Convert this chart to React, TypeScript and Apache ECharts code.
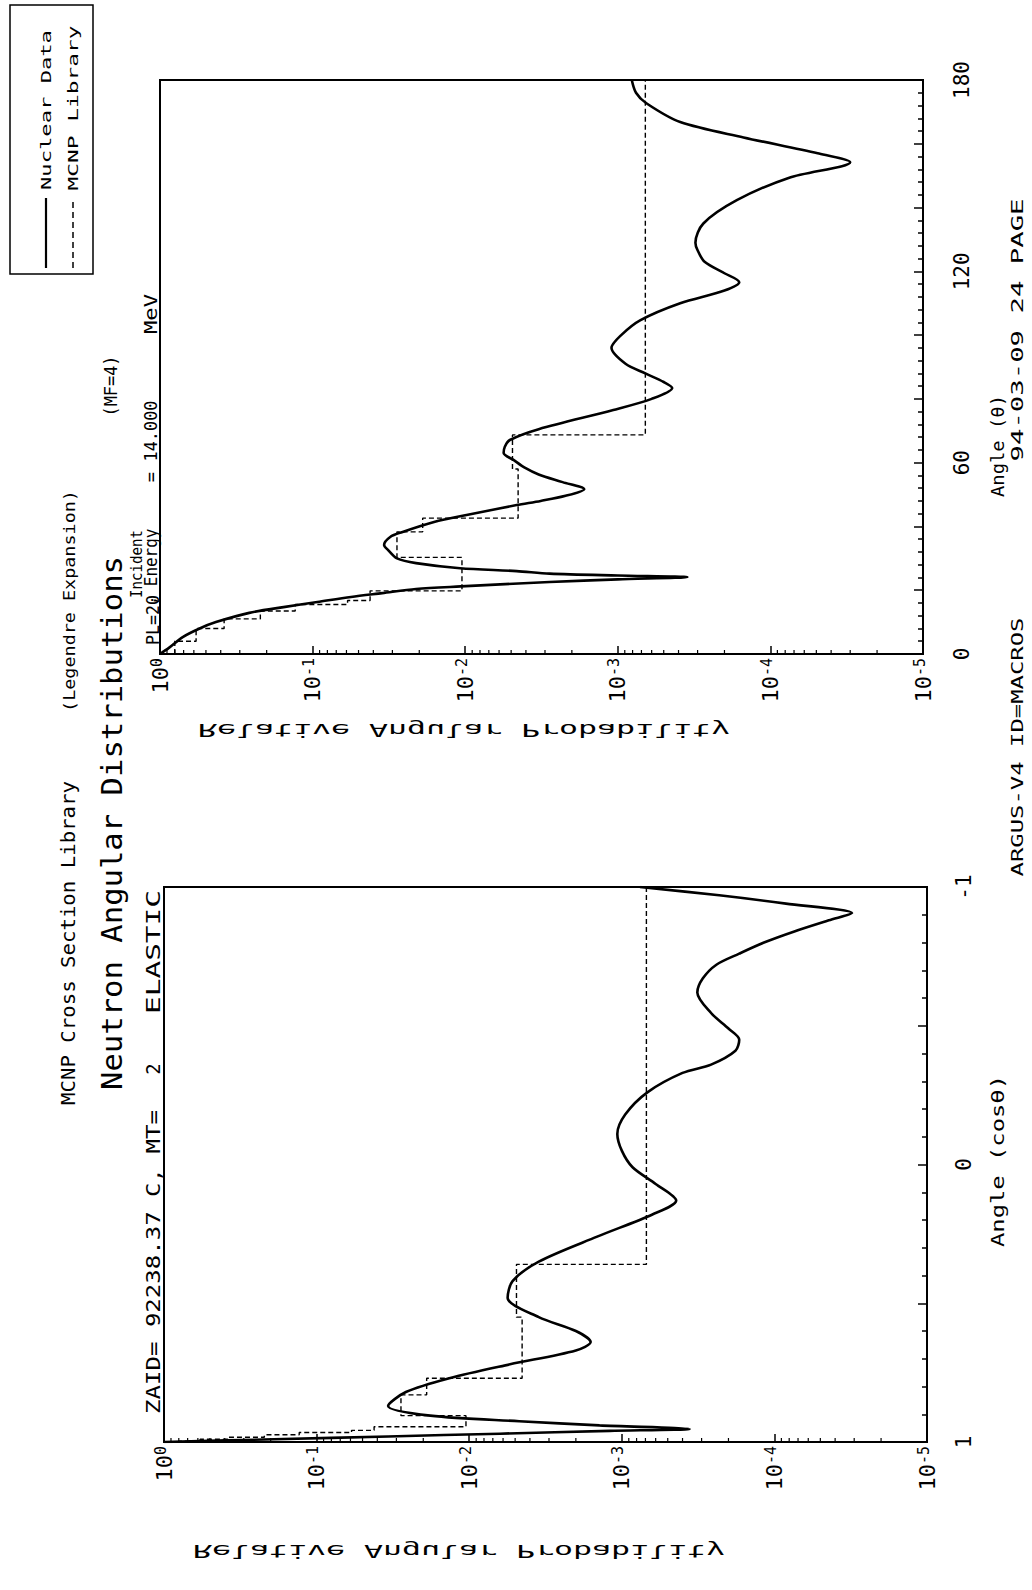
import React, { useEffect, useRef } from 'react';
import * as echarts from 'echarts';

const FONT = 'DejaVu Sans Mono';

// ---- Top panel: probability vs angle (degrees) ----
const topAngles = [0, 2, 5.3, 8, 10, 12.9, 14.7, 16.3, 17.9, 19.1, 20.4, 21.2, 22.6, 23.4, 24.1, 24.6, 25.2, 26.0, 26.9, 28.5, 30, 32.6, 34.2, 36.7, 38.2, 41.4, 43.6, 46.7, 48, 49.6, 51.7, 53.9, 56.3, 58.5, 60.8, 63, 65, 67.1, 70.5, 76.5, 80, 83.4, 85.3, 88, 91, 96, 100, 104.7, 110, 114, 116.6, 119.4, 123, 126.6, 129, 135, 142.3, 149.3, 154.2, 157, 162, 166.8, 172.7, 176, 180];
const topValues = [1.0, 0.87, 0.71, 0.55, 0.43, 0.26, 0.155, 0.093, 0.056, 0.035, 0.021, 0.0107, 0.0028, 0.001, 0.00035, 0.001, 0.0028, 0.0046, 0.0108, 0.021, 0.028, 0.032, 0.034, 0.031, 0.026, 0.016, 0.0098, 0.0046, 0.0032, 0.0022, 0.00166, 0.0023, 0.0033, 0.0041, 0.0048, 0.0056, 0.0055, 0.0051, 0.0033, 0.00107, 0.0006, 0.00044, 0.0005, 0.00066, 0.00089, 0.0011, 0.00095, 0.00071, 0.00039, 0.0002, 0.00016, 0.0002, 0.00027, 0.0003, 0.00031, 0.000275, 0.000166, 0.000076, 0.00003, 0.000049, 0.00015, 0.00039, 0.00065, 0.00076, 0.00081];
const topBinEdges = [0, 4, 8, 11, 13.5, 15.5, 16.8, 19.8, 30.3, 38.3, 42.6, 58, 68.7, 180];
const topBinValues = [0.8, 0.58, 0.38, 0.22, 0.13, 0.059, 0.042, 0.0105, 0.028, 0.019, 0.0045, 0.0049, 0.00066];

// ---- Bottom panel: probability vs cos(theta) ----
const botCos = [-1, -0.97, -0.94, -0.906, -0.88, -0.84, -0.8, -0.76, -0.72, -0.67, -0.62, -0.546, -0.49, -0.45, -0.41, -0.36, -0.33, -0.26, -0.18, -0.11, -0.05, 0.01, 0.07, 0.13, 0.18, 0.26, 0.35, 0.42, 0.48, 0.55, 0.6, 0.64, 0.67, 0.72, 0.77, 0.82, 0.87, 0.905, 0.925, 0.94, 0.953, 0.96, 0.97, 0.98, 0.99, 1];
const botValues = [7.6e-4, 2.3e-4, 8.4e-5, 3.1e-5, 4.4e-5, 7.4e-5, 1.17e-4, 1.7e-4, 2.4e-4, 2.95e-4, 3.2e-4, 2.6e-4, 2.0e-4, 1.7e-4, 1.8e-4, 2.6e-4, 4.0e-4, 6.8e-4, 9.5e-4, 1.07e-3, 1.0e-3, 8.5e-4, 6.0e-4, 4.4e-4, 6.3e-4, 1.45e-3, 3.5e-3, 5.2e-3, 5.6e-3, 3.5e-3, 2.0e-3, 1.6e-3, 2.0e-3, 5.4e-3, 0.0135, 0.026, 0.034, 0.018, 4.7e-3, 1.4e-3, 3.6e-4, 1.2e-3, 6.3e-3, 0.034, 0.19, 1.0];
const botBinEdges = [-1, 0.36, 0.55, 0.77, 0.83, 0.905, 0.945, 0.958, 0.966, 0.974, 0.983, 0.99, 0.997, 1];
const botBinValues = [0.00069, 0.0049, 0.0045, 0.019, 0.028, 0.0105, 0.042, 0.059, 0.13, 0.22, 0.38, 0.58, 0.8];

// axis tick labels
const angleTickLabels = ['0', '60', '120', '180'];
const cosTickLabels = ['-1', '0', '1'];
const decadeExponents = [0, -1, -2, -3, -4, -5];

// minor log ticks (2..9 in each decade)
const minorLogTicks: number[] = [];
for (let e = -5; e <= -1; e++) {
  for (let k = 2; k <= 9; k++) minorLogTicks.push(k * Math.pow(10, e));
}

function vtext(text: string, cx: number, cy: number, len: number | null, fs: number) {
  const natural = text.length * 0.602 * fs;
  return {
    type: 'text',
    x: cx,
    y: cy,
    rotation: Math.PI / 2,
    scaleX: len ? len / natural : 1,
    style: { text, fontFamily: FONT, fontSize: fs, fill: '#000', align: 'center', verticalAlign: 'middle' },
  };
}

function flipText(text: string, cx: number, cy: number, len: number, fs: number) {
  const natural = text.length * 0.602 * fs;
  return {
    type: 'text',
    x: cx,
    y: cy,
    scaleX: len / natural,
    scaleY: -1,
    style: { text, fontFamily: FONT, fontSize: fs, fill: '#000', align: 'center', verticalAlign: 'middle' },
  };
}

function stepPoints(edges: number[], values: number[]) {
  const pts: number[][] = [];
  for (let i = 0; i < values.length; i++) {
    pts.push([values[i], edges[i]]);
    pts.push([values[i], edges[i + 1]]);
  }
  return pts;
}

const logLabel = {
  rotate: 90,
  margin: 4,
  showMinLabel: true,
  showMaxLabel: true,
  formatter: (v: number) => {
    const e = Math.round(Math.log10(v));
    return decadeExponents.indexOf(e) >= 0 ? '{b|10}{s|' + e + '}' : '';
  },
  rich: {
    b: { fontSize: 22, fontFamily: FONT, color: '#000' },
    s: { fontSize: 15, fontFamily: FONT, color: '#000', verticalAlign: 'top' },
  },
};

const tickStyle = { color: '#000', width: 1.5 };

function logAxis(gridIndex: number) {
  return {
    type: 'log',
    gridIndex,
    logBase: 10,
    min: 1e-5,
    max: 1,
    inverse: true,
    axisLine: { show: false, onZero: false },
    axisTick: { show: true, inside: true, length: 8, lineStyle: tickStyle },
    splitLine: { show: false },
    axisLabel: logLabel,
  };
}

function minorTickSeries(xi: number, yBase: number) {
  return {
    type: 'custom',
    xAxisIndex: xi,
    yAxisIndex: xi,
    silent: true,
    data: minorLogTicks.map((v) => [v, yBase]),
    renderItem: (params: any, api: any) => {
      const p = api.coord([api.value(0), api.value(1)]);
      return {
        type: 'line',
        shape: { x1: p[0], y1: p[1], x2: p[0], y2: p[1] - 4 },
        style: { stroke: '#000', lineWidth: 1.2 },
      };
    },
  };
}

const option: any = {
  animation: false,
  backgroundColor: '#fff',
  grid: [
    { left: 160, top: 80, width: 763, height: 574, show: true, borderColor: '#000', borderWidth: 2, backgroundColor: 'transparent' },
    { left: 164, top: 887, width: 763, height: 555, show: true, borderColor: '#000', borderWidth: 2, backgroundColor: 'transparent' },
  ],
  xAxis: [logAxis(0), logAxis(1)],
  yAxis: [
    {
      type: 'value',
      gridIndex: 0,
      min: 0,
      max: 180,
      interval: 20,
      position: 'right',
      axisLine: { show: false, onZero: false },
      axisTick: { show: true, inside: true, length: 9, lineStyle: tickStyle },
      minorTick: { show: true, splitNumber: 5, length: 5, lineStyle: tickStyle },
      splitLine: { show: false },
      axisLabel: {
        rotate: 90,
        margin: 28,
        fontSize: 21,
        fontFamily: FONT,
        color: '#000',
        formatter: (v: number) => (angleTickLabels.indexOf(String(v)) >= 0 ? String(v) : ''),
      },
    },
    {
      type: 'value',
      gridIndex: 1,
      min: -1,
      max: 1,
      interval: 0.5,
      inverse: true,
      position: 'right',
      axisLine: { show: false, onZero: false },
      axisTick: { show: true, inside: true, length: 9, lineStyle: tickStyle },
      minorTick: { show: true, splitNumber: 5, length: 5, lineStyle: tickStyle },
      splitLine: { show: false },
      axisLabel: {
        rotate: 90,
        margin: 26,
        fontSize: 21,
        fontFamily: FONT,
        color: '#000',
        formatter: (v: number) => (cosTickLabels.indexOf(String(v)) >= 0 ? String(v) : ''),
      },
    },
  ],
  series: [
    {
      type: 'line',
      name: 'MCNP Library',
      xAxisIndex: 0,
      yAxisIndex: 0,
      data: stepPoints(topBinEdges, topBinValues),
      showSymbol: false,
      lineStyle: { color: '#000', width: 1.4, type: [5, 3] },
    },
    {
      type: 'line',
      name: 'Nuclear Data',
      xAxisIndex: 0,
      yAxisIndex: 0,
      data: topAngles.map((a, i) => [topValues[i], a]),
      showSymbol: false,
      smooth: 0.3,
      lineStyle: { color: '#000', width: 2.6 },
    },
    minorTickSeries(0, 0),
    {
      type: 'line',
      name: 'MCNP Library',
      xAxisIndex: 1,
      yAxisIndex: 1,
      data: stepPoints(botBinEdges, botBinValues),
      showSymbol: false,
      lineStyle: { color: '#000', width: 1.4, type: [5, 3] },
    },
    {
      type: 'line',
      name: 'Nuclear Data',
      xAxisIndex: 1,
      yAxisIndex: 1,
      data: botCos.map((c, i) => [botValues[i], c]),
      showSymbol: false,
      smooth: 0.3,
      lineStyle: { color: '#000', width: 2.6 },
    },
    minorTickSeries(1, 1),
  ],
  graphic: [
    // legend
    { type: 'rect', shape: { x: 10, y: 5, width: 83, height: 269 }, style: { fill: 'none', stroke: '#000', lineWidth: 1.5 } },
    { type: 'line', shape: { x1: 46, y1: 268, x2: 46, y2: 198 }, style: { stroke: '#000', lineWidth: 2.2 } },
    { type: 'line', shape: { x1: 73, y1: 268, x2: 73, y2: 198 }, style: { stroke: '#000', lineWidth: 1.5, lineDash: [6, 4] } },
    vtext('Nuclear Data', 46, 110, 160, 14),
    vtext('MCNP Library', 73, 108, 165, 14),
    // titles
    vtext('Neutron Angular Distributions', 112, 823, 534, 29),
    vtext('(MF=4)', 111, 386, 61, 18),
    vtext('MCNP Cross Section Library', 69, 943, 324, 19),
    vtext('(Legendre Expansion)', 69, 601, 222, 16),
    vtext('ZAID= 92238.37 C, MT=', 153, 1262, 304, 19),
    vtext('2', 153, 1069, null, 19),
    vtext('ELASTIC', 153, 952, 124, 19),
    vtext(', PL=20', 153, 630, 70, 17),
    vtext('Incident', 137, 564, 68, 16),
    vtext(', Energy', 151, 567, 77, 17),
    vtext('=', 151, 477, null, 17),
    vtext('14.000', 151, 431, 61, 17),
    vtext('MeV', 151, 314, 40, 17),
    // axis titles
    vtext('Angle (\u03b8)', 998, 446, 102, 18),
    vtext('94-03-09 24 PAGE', 1017, 330, 263, 16),
    vtext('ARGUS-V4 ID=MACROS', 1017, 747, 259, 16),
    vtext('Angle (cos\u03b8)', 998, 1161, 172, 18),
    flipText('Relative Angular Probability', 464, 730, 532, 17),
    flipText('Relative Angular Probability', 459, 1551, 532, 17),
  ],
};

export default function App() {
  const ref = useRef<HTMLDivElement>(null);
  useEffect(() => {
    document.body.style.margin = '0';
    const chart = echarts.init(ref.current as HTMLDivElement, undefined, { renderer: 'svg' });
    chart.setOption(option);
    return () => chart.dispose();
  }, []);
  return (
    <div
      ref={ref}
      style={{ position: 'absolute', left: 0, top: 0, width: 1032, height: 1590, background: '#fff' }}
    />
  );
}
